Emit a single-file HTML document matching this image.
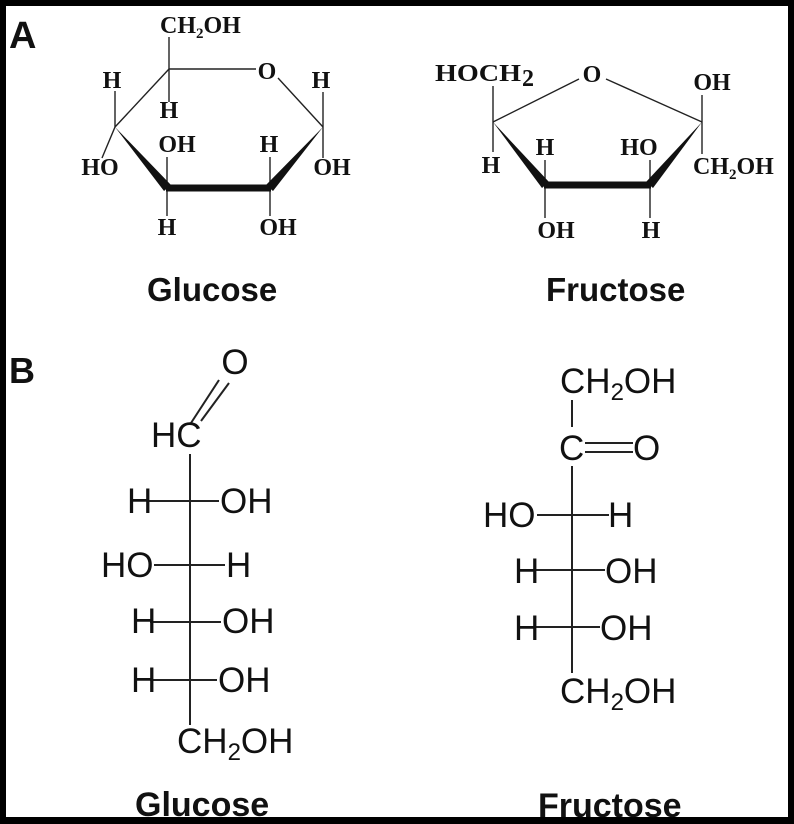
<!DOCTYPE html>
<html><head><meta charset="utf-8"><style>
html,body{margin:0;padding:0;background:#000;}
svg{display:block;}
.s{font-family:"Liberation Serif",serif;font-weight:bold;font-size:24px;fill:#111;}
.a{font-family:"Liberation Sans",sans-serif;font-size:35px;fill:#111;}
.b{font-family:"Liberation Sans",sans-serif;font-weight:bold;fill:#111;}
</style></head><body>
<svg width="794" height="824" viewBox="0 0 794 824" xmlns="http://www.w3.org/2000/svg">
<rect x="0" y="0" width="794" height="824" fill="#000"/>
<rect x="6" y="6" width="782" height="811" fill="#fff"/>

<text class="b" x="9" y="48" font-size="38">A</text>

<g stroke="#222" stroke-width="1.4" fill="none">
<line x1="169" y1="37" x2="169" y2="102"/>
<line x1="169" y1="69" x2="256" y2="69"/>
<line x1="278" y1="78" x2="323" y2="127"/>
<line x1="169" y1="69" x2="115" y2="127"/>
<line x1="115" y1="91" x2="115" y2="127"/>
<line x1="115" y1="127" x2="102" y2="158"/>
<line x1="167" y1="157" x2="167" y2="216"/>
<line x1="270" y1="157" x2="270" y2="216"/>
<line x1="323" y1="92" x2="323" y2="158"/>
</g>
<g fill="#111">
<polygon points="115,127 171,185 164,191"/>
<rect x="166" y="184.5" width="105" height="7"/>
<polygon points="266,185 273,191 323,127"/>
</g>
<text class="s" x="160" y="33">CH<tspan font-size="15" dy="5">2</tspan><tspan dy="-5">OH</tspan></text>
<text class="s" x="267" y="79" text-anchor="middle">O</text>
<text class="s" x="112" y="88" text-anchor="middle">H</text>
<text class="s" x="169" y="118" text-anchor="middle">H</text>
<text class="s" x="177" y="152" text-anchor="middle">OH</text>
<text class="s" x="100" y="175" text-anchor="middle">HO</text>
<text class="s" x="167" y="235" text-anchor="middle">H</text>
<text class="s" x="269" y="152" text-anchor="middle">H</text>
<text class="s" x="278" y="235" text-anchor="middle">OH</text>
<text class="s" x="321" y="88" text-anchor="middle">H</text>
<text class="s" x="332" y="175" text-anchor="middle">OH</text>
<text class="b" x="147" y="301" font-size="33">Glucose</text>

<g stroke="#222" stroke-width="1.4" fill="none">
<line x1="493" y1="86" x2="493" y2="152"/>
<line x1="493" y1="122" x2="579" y2="79"/>
<line x1="606" y1="79" x2="702" y2="122"/>
<line x1="702" y1="95" x2="702" y2="154"/>
<line x1="545" y1="160" x2="545" y2="218"/>
<line x1="650" y1="160" x2="650" y2="218"/>
</g>
<g fill="#111">
<polygon points="493,122 549,182 542,188"/>
<rect x="544" y="181.5" width="107" height="7"/>
<polygon points="646,182 653,188 702,122"/>
</g>
<text class="s" x="435" y="81" textLength="86" lengthAdjust="spacingAndGlyphs">HOCH</text>
<text class="s" x="522" y="86" font-size="15">2</text>
<text class="s" x="592" y="82" text-anchor="middle">O</text>
<text class="s" x="712" y="90" text-anchor="middle">OH</text>
<text class="s" x="491" y="173" text-anchor="middle">H</text>
<text class="s" x="545" y="155" text-anchor="middle">H</text>
<text class="s" x="639" y="155" text-anchor="middle">HO</text>
<text class="s" x="556" y="238" text-anchor="middle">OH</text>
<text class="s" x="651" y="238" text-anchor="middle">H</text>
<text class="s" x="693" y="174">CH<tspan font-size="15" dy="5">2</tspan><tspan dy="-5">OH</tspan></text>
<text class="b" x="546" y="301" font-size="33">Fructose</text>

<text class="b" x="9" y="383" font-size="36">B</text>

<g stroke="#222" stroke-width="2" fill="none">
<line x1="190" y1="454" x2="190" y2="725"/>
<line x1="191" y1="423" x2="219" y2="380"/>
<line x1="201" y1="421" x2="229" y2="383"/>
<line x1="147" y1="501" x2="219" y2="501"/>
<line x1="154" y1="565" x2="225" y2="565"/>
<line x1="150" y1="622" x2="221" y2="622"/>
<line x1="150" y1="680" x2="217" y2="680"/>
</g>
<text class="a" x="235" y="374" text-anchor="middle">O</text>
<text class="a" x="151" y="447" font-size="32">HC</text>
<text class="a" x="127" y="513">H</text>
<text class="a" x="220" y="513">OH</text>
<text class="a" x="101" y="577">HO</text>
<text class="a" x="226" y="577">H</text>
<text class="a" x="131" y="633">H</text>
<text class="a" x="222" y="633">OH</text>
<text class="a" x="131" y="692">H</text>
<text class="a" x="218" y="692">OH</text>
<text class="a" x="177" y="753">CH<tspan font-size="24" dy="7">2</tspan><tspan dy="-7">OH</tspan></text>
<text class="b" x="135" y="816" font-size="34">Glucose</text>

<g stroke="#222" stroke-width="2" fill="none">
<line x1="572" y1="400" x2="572" y2="427"/>
<line x1="585" y1="443" x2="633" y2="443"/>
<line x1="585" y1="452" x2="633" y2="452"/>
<line x1="572" y1="466" x2="572" y2="673"/>
<line x1="537" y1="515" x2="609" y2="515"/>
<line x1="535" y1="570" x2="605" y2="570"/>
<line x1="535" y1="627" x2="600" y2="627"/>
</g>
<text class="a" x="560" y="393">CH<tspan font-size="24" dy="7">2</tspan><tspan dy="-7">OH</tspan></text>
<text class="a" x="559" y="460">C</text>
<text class="a" x="633" y="460">O</text>
<text class="a" x="483" y="527">HO</text>
<text class="a" x="608" y="527">H</text>
<text class="a" x="514" y="583">H</text>
<text class="a" x="605" y="583">OH</text>
<text class="a" x="514" y="640">H</text>
<text class="a" x="600" y="640">OH</text>
<text class="a" x="560" y="703">CH<tspan font-size="24" dy="7">2</tspan><tspan dy="-7">OH</tspan></text>
<text class="b" x="538" y="817" font-size="34">Fructose</text>
</svg>
</body></html>
